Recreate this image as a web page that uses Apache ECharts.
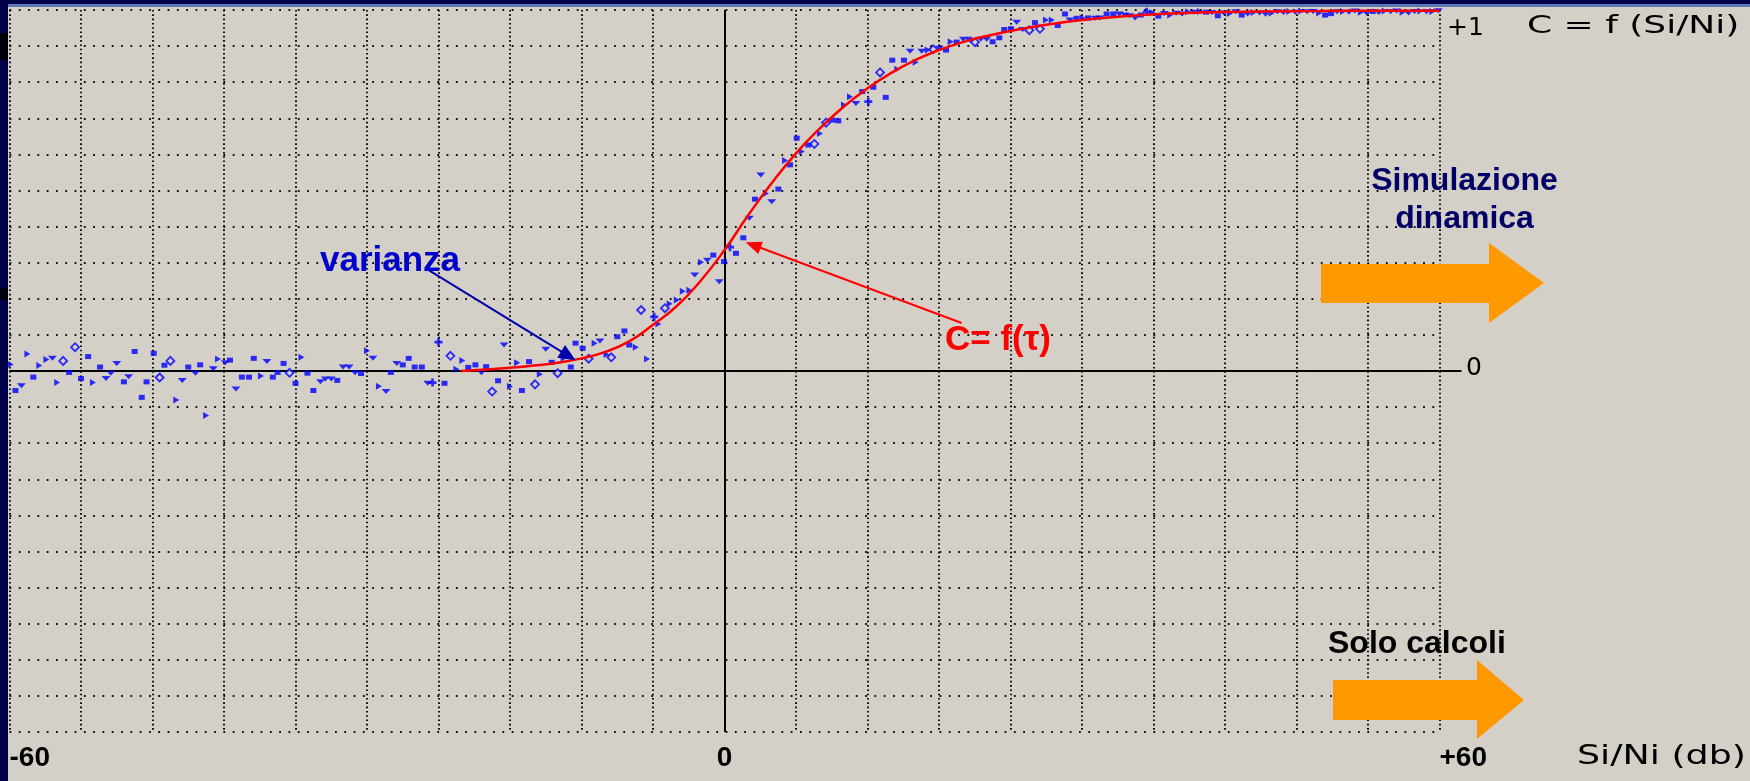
<!DOCTYPE html>
<html>
<head>
<meta charset="utf-8">
<script src="https://cdn.jsdelivr.net/npm/echarts@6/dist/echarts.min.js"></script>
<style>
html,body{margin:0;padding:0;background:#D4D0C8;}
#c{width:1750px;height:781px;}
</style>
</head>
<body>
<div id="c"></div>
<script>
// ---- data ----
const xLabelValues = [-60, 0, 60];
const yLabelValues = [0, 1];

const squarePts = [[-59.5,-0.054],[-58.0,-0.017],[-55.0,-0.004],[-54.0,-0.021],[-53.4,0.04],[-52.4,0.011],[-50.4,-0.03],[-49.5,0.054],[-48.9,-0.073],[-48.5,-0.03],[-47.9,0.049],[-47.0,0.016],[-45.0,0.011],[-44.0,0.017],[-41.5,0.03],[-40.5,-0.017],[-39.9,-0.017],[-39.5,0.035],[-37.9,-0.017],[-37.5,-0.004],[-37.0,0.021],[-36.0,-0.034],[-35.0,-0.006],[-34.5,-0.054],[-32.5,-0.026],[-30.5,-0.007],[-28.0,-0.004],[-27.0,0.017],[-26.5,0.035],[-26.0,0.011],[-25.4,0.011],[-23.5,-0.034],
[-21.5,0.01],[-20.9,0.017],[-20.0,0.012],[-19.0,-0.027],[-17.0,-0.054],[-16.4,0.026],[-14.5,0.024],[-12.9,0.011],[-12.5,0.077],[-11.9,0.063],[-9.0,0.095],[-8.4,0.111],[-8.0,0.072],[-0.94,0.321],[-0.04,0.303],[0.96,0.326],[1.58,0.369],
[2.56,0.476],[4.52,0.504],[5.5,0.571],[6.06,0.645],[7.03,0.626],[9.08,0.695],[9.55,0.693],[11.56,0.774],[12.49,0.786],[13.53,0.758],[14.08,0.861],[15.06,0.861],[18.59,0.889],[19.48,0.911],[20.54,0.919],[22.5,0.912],[23.06,0.923],[23.48,0.946],[24.04,0.948],[26.05,0.965],[27.96,0.957],[28.57,0.989],[29.55,0.977],[30.5,0.978],[32.07,0.989],[32.63,0.989],[34.93,0.986],
[36.4,0.983],[40.4,0.994],[41.4,0.984],[43.4,0.986],[50.4,0.986],[50.9,0.990],[54.4,0.996]];

const rightTriPts = [[-59.9,0.018],[-58.5,0.047],[-57.5,0.015],[-56.9,0.032],[-56.0,-0.032],[-53.0,-0.032],[-46.0,-0.08],[-43.5,-0.123],[-42.5,0.033],[-38.9,-0.014],[-35.5,0.038],[-30.0,0.056],[-29.0,-0.042],
[-22.5,0.005],[-22.0,0.029],[-18.0,-0.043],[-17.4,0.023],[-15.5,-0.009],[-13.5,0.035],[-10.9,0.077],[-9.9,0.046],[-7.45,0.066],[-6.5,0.033],[-5.55,0.13],[-4.6,0.186],[-4.0,0.197],[-3.5,0.221],[-2.95,0.224],[-1.97,0.301],
[3.48,0.492],[5.08,0.583],[6.48,0.608],[8.01,0.658],[10.03,0.737],[10.53,0.76],[14.5,0.836],[16.04,0.855],[17.05,0.889],[18.98,0.912],[26.98,0.972],[27.46,0.972],[30.06,0.978],
[35.9,0.993],[37.4,0.986],[38.9,0.995],[39.9,0.996],[42.4,0.990],[44.4,0.993],[45.9,0.991],[47.4,0.996],[48.4,0.997],[49.9,0.992],[51.9,0.996],[53.4,0.994],[55.4,0.997],[56.9,0.994],[58.4,0.997],[59.4,0.996]];

const downTriPts = [[-59.0,-0.041],[-56.4,0.035],[-51.9,-0.021],[-51.5,-0.006],[-51.0,0.021],[-50.0,-0.016],[-45.5,-0.026],[-44.4,-0.006],[-42.9,0.006],[-41.9,0.023],[-41.0,-0.05],[-38.4,0.026],[-33.9,-0.03],[-33.5,-0.022],[-33.0,-0.022],[-32.0,0.011],[-31.5,0.011],[-31.0,-0.005],[-29.5,0.035],[-28.4,-0.057],[-27.5,0.021],[-24.9,-0.034],
[-20.4,-0.005],[-18.5,0.072],[-15.0,0.06],[-10.45,0.083],[-2.5,0.266],[-1.44,0.307],[-0.44,0.247],
[2.08,0.423],[3.04,0.543],[3.96,0.469],[11.03,0.741],[15.57,0.886],[16.55,0.886],[18.03,0.894],[20.04,0.919],[21.5,0.919],[22.0,0.919],[24.52,0.966],[25.02,0.946],[28.99,0.972],[31.1,0.977],[31.5,0.978],[33.13,0.989],[33.6,0.986],[34.0,0.984],[34.45,0.978],
[36.9,0.990],[37.9,0.991],[38.4,0.989],[39.4,0.994],[40.9,0.993],[41.9,0.992],[42.9,0.995],[43.9,0.989],[44.9,0.992],[45.4,0.988],[46.4,0.995],[46.9,0.993],[47.9,0.994],[48.9,0.995],[49.4,0.996],[51.4,0.995],[52.4,0.994],[52.9,0.997],[53.9,0.991],[54.9,0.993],[55.9,0.995],[56.4,0.997],[57.4,0.992],[57.9,0.996],[58.9,0.995],[59.9,0.998]];

const diamondPts = [[-55.5,0.028],[-54.5,0.066],[-47.4,-0.018],[-46.5,0.028],[-36.5,-0.005],[-23.0,0.042],[-19.5,-0.057],[-15.9,-0.037],[-14.0,-0.006],[-11.4,0.034],[-9.5,0.038],[-7.0,0.169],[-5.0,0.174],
[7.54,0.629],[8.52,0.688],[13.05,0.827],[17.52,0.891],[21.02,0.911],[25.58,0.944],[26.47,0.948]];

const plusPts = [[-24.5,-0.032],[-24.0,0.08],[-5.9,0.15],[0.46,0.343],[12.07,0.746],[35.43,0.995]];

const curveX = [-22.1,-20,-18,-16,-14,-12,-10,-8,-6,-4,-2,0,2,4,6,8,10,12,14,16,18,20,22,24,27,30,35,40,45,50,55,60];
const curveY = [0,0.004,0.009,0.015,0.023,0.035,0.053,0.082,0.128,0.180,0.250,0.335,0.432,0.522,0.603,0.672,0.732,0.783,0.826,0.861,0.889,0.911,0.928,0.942,0.959,0.972,0.986,0.993,0.996,0.997,0.998,0.998];

// annotation arrows (data space): [from, to]
const varianzaArrow = [[-25.1, 0.285], [-13.1, 0.042]];
const curveArrow = [[19.9, 0.133], [2.4, 0.349]];

// ---- chart ----
const chart = echarts.init(document.getElementById('c'), null, {renderer: 'canvas'});
const BLUE = '#0000FF';
const BG = '#D4D0C8';

const option = {
  animation: false,
  backgroundColor: BG,
  grid: {left: 9.5, right: 310.5, top: 10, bottom: 49, outerBoundsMode: 'none', containLabel: false},
  xAxis: {
    type: 'value', min: -60, max: 60, interval: 6,
    axisLine: {show: false},
    axisTick: {show: false},
    splitLine: {show: true, lineStyle: {color: '#111', width: 2, type: [1.6, 2.7]}},
    axisLabel: {
      customValues: xLabelValues,
      alignMinLabel: 'left', alignMaxLabel: 'left',
      margin: 12,
      fontFamily: 'Liberation Sans', fontWeight: 'bold', fontSize: 28, color: '#000',
      formatter: v => (v > 0 ? '+' + v : String(v))
    }
  },
  yAxis: [
    {
      type: 'value', min: -1, max: 1, interval: 0.1, position: 'right',
      axisLine: {show: false},
      axisTick: {show: false},
      splitLine: {show: true, lineStyle: {color: '#111', width: 2, type: [1.8, 7.5]}},
      axisLabel: {
        customValues: yLabelValues,
        margin: 7.5,
        fontFamily: 'DejaVu Sans', fontSize: 25, color: '#000',
        formatter: v => (v === 1 ? '{top|+1}' : '{zero|0}'),
        rich: {
          top: {fontFamily: 'DejaVu Sans', fontSize: 25, color: '#000', padding: [36, 0, 0, 0]},
          zero: {fontFamily: 'DejaVu Sans', fontSize: 25, color: '#000', padding: [0, 0, 6, 19]}
        }
      }
    },
    {
      type: 'value', min: -1, max: 1, interval: 0.1, position: 'right',
      axisLine: {show: false},
      splitLine: {show: false},
      axisLabel: {show: false},
      axisTick: {show: true, customValues: [0], length: 22, inside: false, lineStyle: {color: '#000', width: 2}}
    }
  ],
  series: [
    {type: 'scatter', name: 'sq', data: squarePts, symbol: 'rect', symbolSize: [6, 5], itemStyle: {color: BLUE}, z: 3},
    {type: 'scatter', name: 'tr', data: rightTriPts, symbol: 'triangle', symbolSize: [7, 6], symbolRotate: -90, itemStyle: {color: BLUE}, z: 3},
    {type: 'scatter', name: 'td', data: downTriPts, symbol: 'triangle', symbolSize: [9, 5], symbolRotate: 180, itemStyle: {color: BLUE}, z: 3},
    {type: 'scatter', name: 'dm', data: diamondPts, symbol: 'diamond', symbolSize: [8, 8], itemStyle: {color: BG, borderColor: BLUE, borderWidth: 1.8}, z: 3},
    {type: 'scatter', name: 'pl', data: plusPts, symbol: 'path://M2,0h2v2h2v2h-2v2h-2v-2h-2v-2h2z', symbolSize: [8, 8], itemStyle: {color: BLUE}, z: 3},
    {
      type: 'line', name: 'curve', data: curveX.map((x, i) => [x, curveY[i]]),
      showSymbol: false, symbol: 'none', smooth: 0.5,
      lineStyle: {color: '#FF0000', width: 2.5}, z: 4,
      markLine: {
        silent: true, symbol: 'none', label: {show: false},
        lineStyle: {color: '#000', width: 2, type: 'solid'},
        data: [{yAxis: 0}, {xAxis: 0}], z: 2
      }
    },
    {
      type: 'scatter', name: 'annot', data: [], z: 6,
      markLine: {
        silent: true, label: {show: false}, symbol: ['none', 'triangle'],
        lineStyle: {type: 'solid', width: 2},
        data: [
          [{coord: varianzaArrow[0], symbolSize: 0, lineStyle: {color: '#0000AA', width: 2, type: 'solid'}},
           {coord: varianzaArrow[1], symbol: 'triangle', symbolSize: [15, 17], itemStyle: {color: '#0000AA'}}],
          [{coord: curveArrow[0], symbolSize: 0, lineStyle: {color: '#FF0000', width: 2, type: 'solid'}},
           {coord: curveArrow[1], symbol: 'triangle', symbolSize: [13, 16], itemStyle: {color: '#FF0000'}}]
        ]
      }
    }
  ],
  graphic: [
    {type: 'rect', shape: {x: 0, y: 0, width: 1750, height: 4}, style: {fill: '#00004A'}, z: 20, silent: true},
    {type: 'rect', shape: {x: 0, y: 4, width: 1750, height: 3}, style: {fill: '#5B78B4'}, z: 20, silent: true},
    {type: 'rect', shape: {x: 0, y: 0, width: 8, height: 781}, style: {fill: '#000048'}, z: 21, silent: true},
    {type: 'rect', shape: {x: 0, y: 33, width: 8, height: 27}, style: {fill: '#000008'}, z: 22, silent: true},
    {type: 'rect', shape: {x: 0, y: 288, width: 8, height: 12}, style: {fill: '#000010'}, z: 22, silent: true},
    {type: 'polygon', shape: {points: [[1321,264],[1489,264],[1489,243],[1544,283],[1489,323],[1489,303],[1321,303]]}, style: {fill: '#FF9900'}, z: 10, silent: true},
    {type: 'polygon', shape: {points: [[1333,680],[1477,680],[1477,660],[1524,700],[1477,739],[1477,720],[1333,720]]}, style: {fill: '#FF9900'}, z: 10, silent: true},
    {type: 'text', x: 320, y: 261, z: 10, silent: true, style: {text: 'varianza', fill: '#0000CC', font: 'bold 35px "Liberation Sans"', textAlign: 'left', textVerticalAlign: 'middle'}},
    {type: 'text', x: 945, y: 340, z: 10, silent: true, style: {text: 'C= f(τ)', fill: '#FF0000', font: 'bold 35px "Liberation Sans"', textAlign: 'left', textVerticalAlign: 'middle'}},
    {type: 'text', x: 1464.5, y: 181, z: 10, silent: true, style: {text: 'Simulazione', fill: '#000066', font: 'bold 32px "Liberation Sans"', textAlign: 'center', textVerticalAlign: 'middle'}},
    {type: 'text', x: 1464.5, y: 219, z: 10, silent: true, style: {text: 'dinamica', fill: '#000066', font: 'bold 32px "Liberation Sans"', textAlign: 'center', textVerticalAlign: 'middle'}},
    {type: 'text', x: 1328, y: 644, z: 10, silent: true, style: {text: 'Solo calcoli', fill: '#000000', font: 'bold 32px "Liberation Sans"', textAlign: 'left', textVerticalAlign: 'middle'}},
    {type: 'text', x: 1527, y: 26, scaleX: 1.44, z: 10, silent: true, style: {text: 'C = f (Si/Ni)', fill: '#000000', font: '25px "DejaVu Sans"', textAlign: 'left', textVerticalAlign: 'middle'}},
    {type: 'text', x: 1577, y: 757.5, scaleX: 1.4, z: 10, silent: true, style: {text: 'Si/Ni (db)', fill: '#000000', font: '26px "DejaVu Sans"', textAlign: 'left', textVerticalAlign: 'middle'}}
  ]
};
chart.setOption(option);
</script>
</body>
</html>
